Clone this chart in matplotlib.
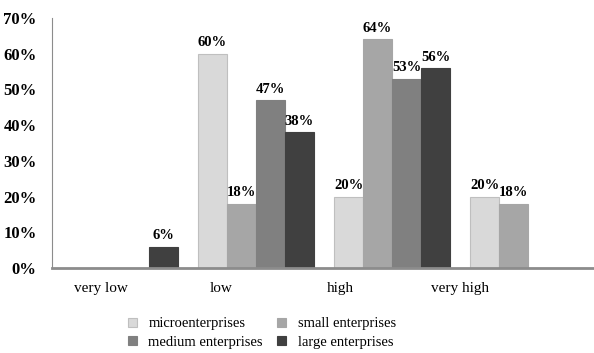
import numpy as np
import matplotlib.pyplot as plt

plt.rcParams['font.family'] = ['Liberation Serif', 'DejaVu Serif']

categories = ['very low', 'low', 'high', 'very high']
series_names = ['microenterprises', 'small enterprises', 'medium enterprises', 'large enterprises']
micro = [0, 60, 20, 20]
small = [0, 18, 64, 18]
medium = [0, 47, 53, 0]
large = [6, 38, 56, 0]
yticks = [0, 10, 20, 30, 40, 50, 60, 70]

colors = ['#d9d9d9', '#a6a6a6', '#808080', '#404040']
edges = ['#bfbfbf', '#a6a6a6', '#808080', '#404040']

fig = plt.figure(figsize=(5.94, 3.53), dpi=100)
ax = fig.add_axes([52/594, 85/353, 542/594, 250/353])

x = np.arange(len(categories)) + 0.5
w = 0.213
data = [micro, small, medium, large]
handles = []
for k, vals in enumerate(data):
    pos = x + (k - 1.5) * w
    bars = ax.bar(pos, vals, w, color=colors[k], edgecolor=edges[k], linewidth=0.8,
                  label=series_names[k])
    handles.append(bars)
    for b, v in zip(bars, vals):
        if v > 0:
            ax.text(b.get_x() + b.get_width()/2, v + 1.2, f'{v}%', ha='center', va='bottom',
                    fontsize=10.5, fontweight='bold')

ax.set_xlim(0, len(categories) - 0.015)
ax.set_ylim(0, 70)
ax.set_yticks(yticks)
ax.set_yticklabels([f'{t}%' for t in yticks], fontsize=12, fontweight='bold')
# category labels sit a little left of the bar groups, as in the original
ax.set_xticks(np.arange(len(categories)) * 0.88 + 0.36)
ax.set_xticklabels(categories, fontsize=11)
ax.tick_params(axis='both', length=0)
ax.tick_params(axis='y', pad=11)
ax.tick_params(axis='x', pad=10)

for s in ['top', 'right']:
    ax.spines[s].set_visible(False)
ax.spines['left'].set_color('#8c8c8c')
ax.spines['left'].set_linewidth(0.8)
ax.spines['bottom'].set_color('#8c8c8c')
ax.spines['bottom'].set_linewidth(2)

# legend filled row-wise: micro, small / medium, large
order = [0, 2, 1, 3]
fig.legend([handles[i] for i in order], [series_names[i] for i in order],
           loc='center', bbox_to_anchor=(262/594, 1 - 333/353), ncol=2, frameon=False,
           fontsize=10.5, handlelength=0.6, handleheight=0.6, handletextpad=0.8,
           columnspacing=1.0, labelspacing=0.35)

fig.savefig('out.png', dpi=100)
